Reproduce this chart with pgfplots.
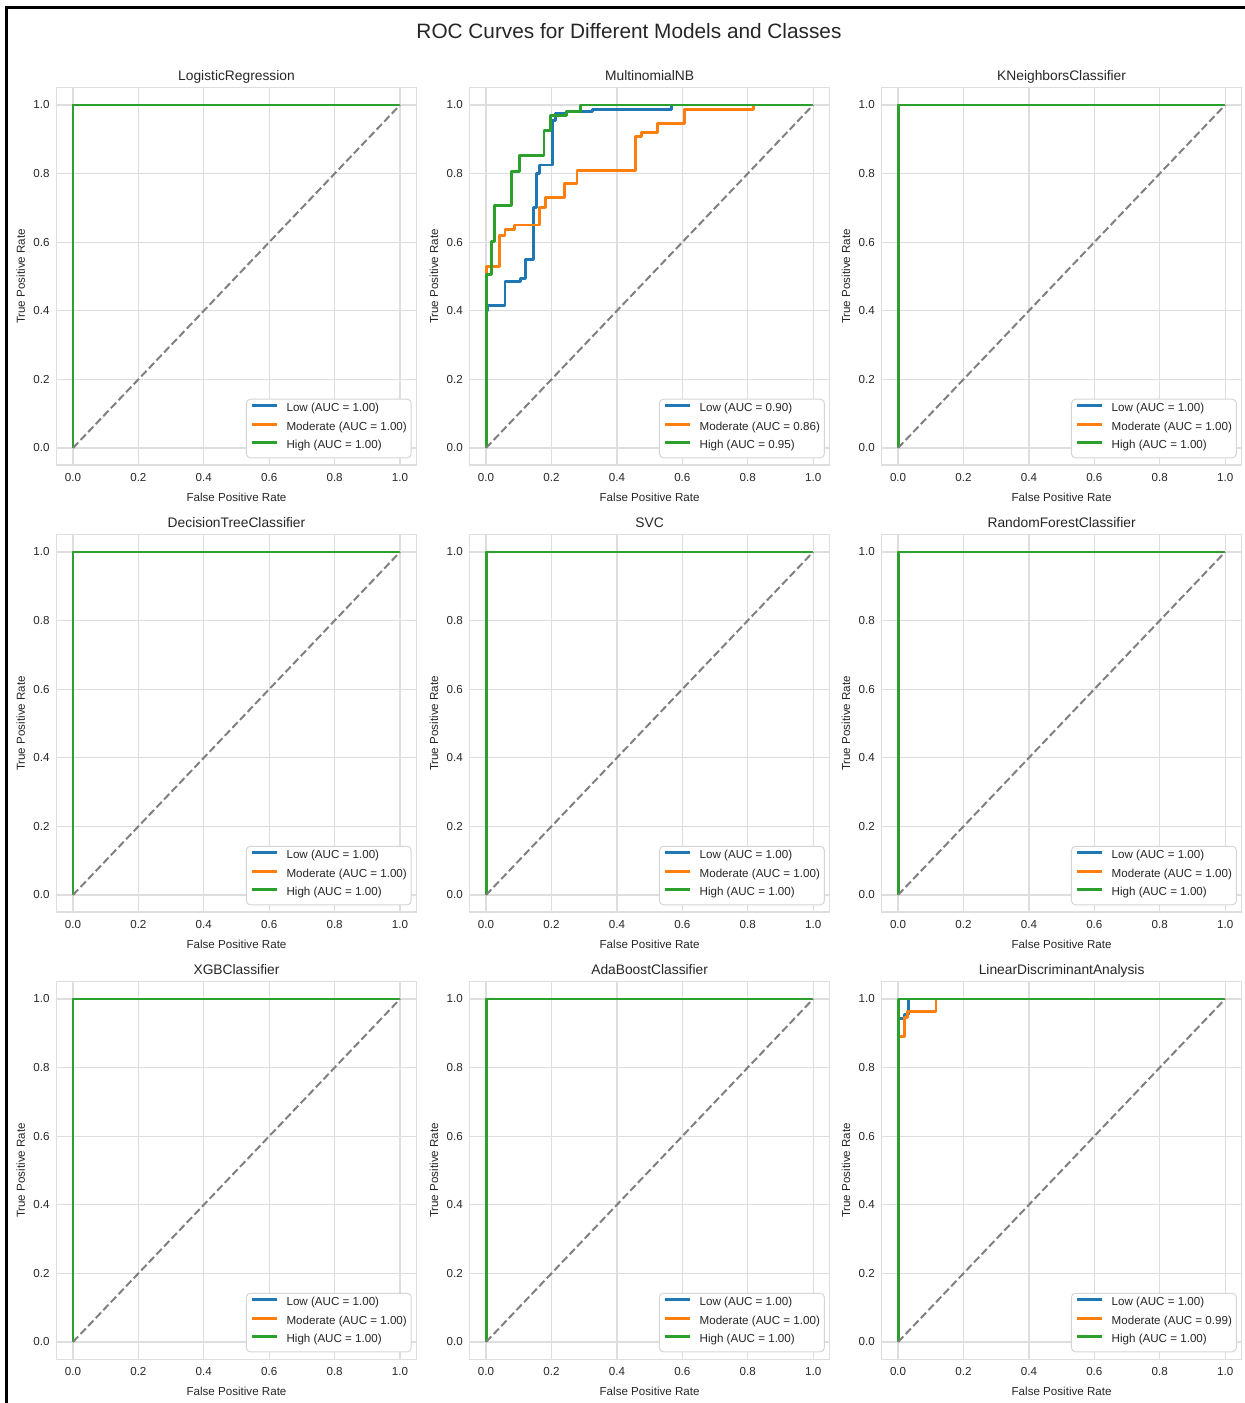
\documentclass[border=0pt]{standalone}
\usepackage{fontspec}
\setmainfont{Liberation Sans}
\usepackage{pgfplots}
\pgfplotsset{compat=1.18}
\definecolor{lowc}{HTML}{1F77B4}
\definecolor{modc}{HTML}{FF7F0E}
\definecolor{highc}{HTML}{2CA02C}
\definecolor{gridc}{HTML}{DEDEDE}
\definecolor{txtc}{HTML}{262626}
\definecolor{legc}{HTML}{D5D5D5}
\newcommand\fs{\fontsize{5.8pt}{7pt}\selectfont}
\newcommand\ft{\fontsize{6.9pt}{8pt}\selectfont}
\newcommand\fsup{\fontsize{10.4pt}{12pt}\selectfont}
\pgfplotsset{
  rocax/.style={
    scale only axis, width=179.9pt, height=188.65pt, anchor=south west,
    xmin=-0.05, xmax=1.05, ymin=-0.05, ymax=1.05,
    xtick={0,0.2,0.4,0.6,0.8,1}, ytick={0,0.2,0.4,0.6,0.8,1},
    xticklabels={0.0,0.2,0.4,0.6,0.8,1.0}, yticklabels={0.0,0.2,0.4,0.6,0.8,1.0},
    major tick length=0pt, tick style={draw=none},
    grid=major, major grid style={draw=gridc, line width=0.65pt},
    axis line style={draw=gridc, line width=0.65pt},
    xticklabel style={font=\fs, text=txtc, anchor=base, inner sep=0pt, yshift=-8.4pt},
    yticklabel style={font=\fs, text=txtc, anchor=east, inner sep=0pt, xshift=-3.3pt},
    xlabel={False Positive Rate}, ylabel={True Positive Rate},
    xlabel style={font=\fs, text=txtc, at={(axis description cs:0.5,-0.097)}, anchor=base, inner sep=0pt},
    ylabel style={font=\fs, text=txtc, at={(axis description cs:-0.088,0.5)}, anchor=base, inner sep=0pt},
    title style={font=\ft, text=txtc, at={(axis description cs:0.5,1)}, anchor=base, inner sep=0pt, yshift=-2.1pt},
    legend cell align=left,
    legend image code/.code={\draw[##1, line width=1.4pt] (0pt,2.1pt) -- (12.5pt,2.1pt);},
    legend style={at={(axis description cs:0.987,0.018)}, anchor=south east, draw=legc, line width=0.5pt, rounded corners=2pt, fill=white, font=\fs, text=txtc, inner xsep=2.2pt, inner ysep=2pt, row sep=2.45pt, nodes={inner sep=0pt, text height=4.25pt, text depth=2.55pt}, /tikz/every odd column/.append style={column sep=4pt}},
  },
  roc/.style={line width=1.45pt, line join=round},
  diag/.style={gray, line width=1pt, dash pattern=on 3.8pt off 1.7pt},
}
\newcommand{\perfectpanel}[3]{%
\begin{axis}[rocax, at={(#1,#2)}, title={#3}]
\addplot[roc, lowc] coordinates {(0,0) (0,1) (1,1)};
\addlegendentry{Low (AUC = 1.00)}
\addplot[roc, modc] coordinates {(0,0) (0,1) (1,1)};
\addlegendentry{Moderate (AUC = 1.00)}
\addplot[roc, highc] coordinates {(0,0) (0,1) (1,1)};
\addlegendentry{High (AUC = 1.00)}
\addplot[diag, forget plot] coordinates {(0,0) (1,1)};
\end{axis}}
\begin{document}
\begin{tikzpicture}
\useasboundingbox (0,0) rectangle (622.5pt,701.5pt);
\draw[line width=1.5pt, line join=miter] (3pt,0pt) -- (3pt,697.5pt) -- (622.5pt,697.5pt);
\node[font=\fsup, text=txtc, anchor=base, inner sep=0pt] at (314.5pt,682.25pt) {ROC Curves for Different Models and Classes};

\perfectpanel{28.3pt}{468.925pt}{LogisticRegression}

\begin{axis}[rocax, at={(234.85pt,468.925pt)}, title={MultinomialNB}]
\addplot[roc, lowc] coordinates {(0,0) (0,0.40) (0.006,0.40) (0.006,0.415) (0.058,0.415) (0.058,0.485) (0.104,0.485) (0.104,0.495) (0.120,0.495) (0.120,0.55) (0.145,0.55) (0.145,0.70) (0.153,0.70) (0.153,0.80) (0.162,0.80) (0.162,0.825) (0.204,0.825) (0.204,0.955) (0.211,0.955) (0.211,0.975) (0.247,0.975) (0.247,0.98) (0.326,0.98) (0.326,0.987) (0.566,0.987) (0.566,1) (1,1)};
\addlegendentry{Low (AUC = 0.90)}
\addplot[roc, modc] coordinates {(0,0) (0,0.53) (0.042,0.53) (0.042,0.62) (0.058,0.62) (0.058,0.637) (0.086,0.637) (0.086,0.65) (0.162,0.65) (0.162,0.70) (0.182,0.70) (0.182,0.73) (0.239,0.73) (0.239,0.77) (0.278,0.77) (0.278,0.81) (0.456,0.81) (0.456,0.907) (0.476,0.907) (0.476,0.919) (0.525,0.919) (0.525,0.947) (0.606,0.947) (0.606,0.988) (0.817,0.988) (0.817,1) (1,1)};
\addlegendentry{Moderate (AUC = 0.86)}
\addplot[roc, highc] coordinates {(0,0) (0,0.507) (0.018,0.507) (0.018,0.602) (0.027,0.602) (0.027,0.707) (0.078,0.707) (0.078,0.806) (0.103,0.806) (0.103,0.852) (0.177,0.852) (0.177,0.925) (0.197,0.925) (0.197,0.97) (0.247,0.97) (0.247,0.98) (0.288,0.98) (0.288,1) (1,1)};
\addlegendentry{High (AUC = 0.95)}
\addplot[diag, forget plot] coordinates {(0,0) (1,1)};
\end{axis}

\perfectpanel{440.85pt}{468.925pt}{KNeighborsClassifier}

\perfectpanel{28.3pt}{245.425pt}{DecisionTreeClassifier}
\perfectpanel{234.85pt}{245.425pt}{SVC}
\perfectpanel{440.85pt}{245.425pt}{RandomForestClassifier}

\perfectpanel{28.3pt}{21.925pt}{XGBClassifier}
\perfectpanel{234.85pt}{21.925pt}{AdaBoostClassifier}

\begin{axis}[rocax, at={(440.85pt,21.925pt)}, title={LinearDiscriminantAnalysis}]
\addplot[roc, lowc] coordinates {(0,0) (0,0.944) (0.02,0.944) (0.02,0.955) (0.033,0.955) (0.033,1) (1,1)};
\addlegendentry{Low (AUC = 1.00)}
\addplot[roc, modc] coordinates {(0,0) (0,0.89) (0.02,0.89) (0.02,0.945) (0.028,0.945) (0.028,0.963) (0.116,0.963) (0.116,1) (1,1)};
\addlegendentry{Moderate (AUC = 0.99)}
\addplot[roc, highc] coordinates {(0,0) (0,1) (1,1)};
\addlegendentry{High (AUC = 1.00)}
\addplot[diag, forget plot] coordinates {(0,0) (1,1)};
\end{axis}
\end{tikzpicture}
\end{document}
